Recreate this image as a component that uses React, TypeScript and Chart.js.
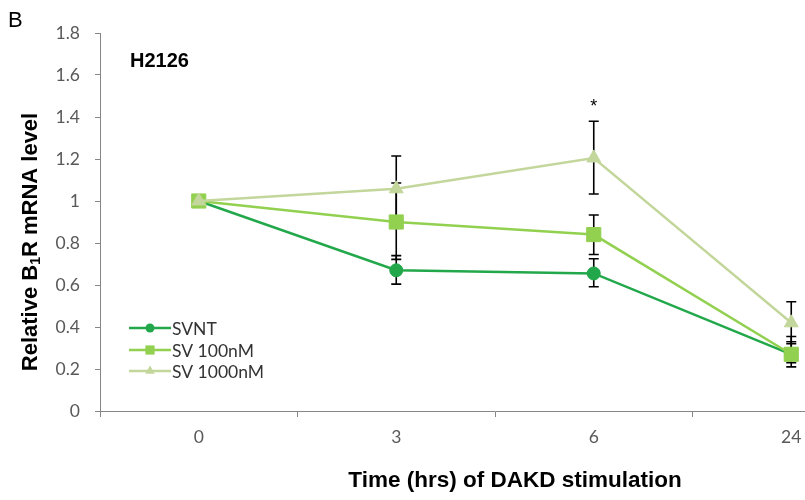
import React, { useEffect, useRef } from "react";
import { Chart, registerables } from "chart.js";

Chart.register(...registerables);

const categories = ["0", "3", "6", "24"];
const seriesNames = ["SVNT", "SV 100nM", "SV 1000nM"];

const svntValues = [1.0, 0.67, 0.655, 0.27];
const svntErrUp = [0, 0.07, 0.07, 0.06];
const svntErrDown = [0, 0.066, 0.063, 0.06];

const sv100Values = [1.0, 0.9, 0.84, 0.27];
const sv100ErrUp = [0, 0.186, 0.093, 0.085];
const sv100ErrDown = [0, 0.178, 0.095, 0.04];

const sv1000Values = [1.0, 1.058, 1.205, 0.42];
const sv1000ErrUp = [0, 0.156, 0.175, 0.1];
const sv1000ErrDown = [0, 0.16, 0.172, 0.1];

const yTickMin = 0;
const yTickMax = 1.8;
const yTickStep = 0.2;

const starIndices = [2]; // significance marks on SV 1000nM

const panelLetter = "B";
const panelTitle = "H2126";
const xTitle = "Time (hrs) of DAKD stimulation";

const colors = ["#22A84B", "#92D050", "#C3D69B"];
const pointStyles = ["circle", "rect", "triangle"];
const pointRadii = [6.5, 10, 8];
const legendRadii = [4.5, 6.5, 5.5];

const errUps = [svntErrUp, sv100ErrUp, sv1000ErrUp];
const errDowns = [svntErrDown, sv100ErrDown, sv1000ErrDown];

const TICK_FONT = "Lato, 'Open Sans', sans-serif";
const BOLD_FONT = "'Liberation Sans Narrow', 'Liberation Sans', Arial, sans-serif";

const errorBarPlugin = {
  id: "errorBars",
  beforeDatasetsDraw(chart: any) {
    const ctx = chart.ctx;
    const xs = chart.scales.x;
    const ys = chart.scales.y;
    ctx.save();
    ctx.strokeStyle = "#000000";
    ctx.lineWidth = 1.6;
    chart.data.datasets.forEach((ds: any, i: number) => {
      ds.data.forEach((v: number, j: number) => {
        const up = errUps[i][j];
        const dn = errDowns[i][j];
        if (!up && !dn) return;
        const x = xs.getPixelForValue(j);
        const yt = ys.getPixelForValue(v + up);
        const yb = ys.getPixelForValue(v - dn);
        ctx.beginPath();
        ctx.moveTo(x, yt);
        ctx.lineTo(x, yb);
        ctx.moveTo(x - 5, yt);
        ctx.lineTo(x + 5, yt);
        ctx.moveTo(x - 5, yb);
        ctx.lineTo(x + 5, yb);
        ctx.stroke();
      });
    });
    ctx.restore();
  },
};

function drawMarker(ctx: CanvasRenderingContext2D, style: string, x: number, y: number, r: number) {
  ctx.beginPath();
  if (style === "circle") {
    ctx.arc(x, y, r, 0, Math.PI * 2);
  } else if (style === "rect") {
    const s = Math.SQRT1_2 * r;
    ctx.rect(x - s, y - s, 2 * s, 2 * s);
  } else {
    const a = (2 * Math.PI) / 3;
    ctx.moveTo(x, y - r);
    ctx.lineTo(x + Math.sin(a) * r, y - Math.cos(a) * r);
    ctx.lineTo(x + Math.sin(2 * a) * r, y - Math.cos(2 * a) * r);
    ctx.closePath();
  }
  ctx.fill();
}

const decorPlugin = {
  id: "decor",
  afterDraw(chart: any) {
    const ctx = chart.ctx;
    const xs = chart.scales.x;
    const ys = chart.scales.y;
    ctx.save();

    // panel letter
    ctx.fillStyle = "#000000";
    ctx.font = "22px 'Liberation Sans', Arial, sans-serif";
    ctx.textAlign = "left";
    ctx.textBaseline = "alphabetic";
    ctx.fillText(panelLetter, 8, 27);

    // panel title
    ctx.font = "bold 20px 'Liberation Sans', Arial, sans-serif";
    ctx.fillText(panelTitle, 130, 67);

    // x title
    ctx.font = "bold 22.5px " + BOLD_FONT;
    ctx.textAlign = "center";
    ctx.textBaseline = "middle";
    ctx.fillText(xTitle, 515, 481);

    // y title with subscript
    ctx.save();
    ctx.translate(31, 242);
    ctx.rotate(-Math.PI / 2);
    const big = "bold 22px " + BOLD_FONT;
    const small = "bold 14px " + BOLD_FONT;
    const parts = [
      { t: "Relative B", f: big, dy: 0 },
      { t: "1", f: small, dy: 5 },
      { t: "R mRNA level", f: big, dy: 0 },
    ];
    let total = 0;
    parts.forEach((p) => {
      ctx.font = p.f;
      total += ctx.measureText(p.t).width;
    });
    let cx = -total / 2;
    ctx.textAlign = "left";
    ctx.textBaseline = "middle";
    parts.forEach((p) => {
      ctx.font = p.f;
      ctx.fillText(p.t, cx, p.dy);
      cx += ctx.measureText(p.t).width;
    });
    ctx.restore();

    // significance stars
    ctx.font = "18px 'Liberation Sans', Arial, sans-serif";
    ctx.textAlign = "center";
    ctx.textBaseline = "middle";
    starIndices.forEach((j) => {
      const x = xs.getPixelForValue(j);
      const y = ys.getPixelForValue(sv1000Values[j] + sv1000ErrUp[j]);
      ctx.fillText("*", x, y - 14);
    });

    // legend
    const lx0 = 129;
    const lx1 = 171;
    const rowsY = [328, 350, 371];
    chart.data.datasets.forEach((ds: any, i: number) => {
      const y = rowsY[i];
      ctx.strokeStyle = colors[i];
      ctx.lineWidth = 2.5;
      ctx.beginPath();
      ctx.moveTo(lx0, y);
      ctx.lineTo(lx1, y);
      ctx.stroke();
      ctx.fillStyle = colors[i];
      drawMarker(ctx, pointStyles[i], 150, y, legendRadii[i]);
      ctx.fillStyle = "#333333";
      ctx.font = "17.5px " + TICK_FONT;
      ctx.textAlign = "left";
      ctx.textBaseline = "middle";
      ctx.fillText(seriesNames[i], 172, y + 1);
    });

    ctx.restore();
  },
};

export default function App() {
  const ref = useRef<HTMLCanvasElement | null>(null);

  useEffect(() => {
    if (!ref.current) return;
    const valueSets = [svntValues, sv100Values, sv1000Values];
    const chart = new Chart(ref.current, {
      type: "line",
      data: {
        labels: categories,
        datasets: valueSets.map((vals, i) => ({
          label: seriesNames[i],
          data: vals,
          borderColor: colors[i],
          backgroundColor: colors[i],
          pointBackgroundColor: colors[i],
          pointBorderColor: colors[i],
          pointStyle: pointStyles[i] as any,
          pointRadius: pointRadii[i],
          pointBorderWidth: 1,
          borderWidth: 2.5,
          tension: 0,
          fill: false,
          order: 2 - i,
          clip: false as any,
        })),
      },
      options: {
        animation: false,
        responsive: false,
        maintainAspectRatio: false,
        layout: { padding: { top: 33, right: 0, left: 0, bottom: 0 } },
        plugins: {
          legend: { display: false },
          tooltip: { enabled: false },
          title: { display: false },
        },
        scales: {
          x: {
            type: "category",
            offset: true,
            grid: {
              offset: true,
              drawOnChartArea: false,
              drawTicks: true,
              tickLength: 6,
              color: "#868686",
            },
            border: { color: "#868686", width: 1 },
            ticks: {
              color: "#595959",
              font: { family: TICK_FONT, size: 17.5 },
              padding: 10,
              maxRotation: 0,
            },
            afterFit: (s: any) => {
              s.height = 89;
            },
          },
          y: {
            min: yTickMin,
            max: yTickMax,
            grid: {
              drawOnChartArea: false,
              drawTicks: true,
              tickLength: 5,
              color: "#868686",
            },
            border: { color: "#868686", width: 1 },
            ticks: {
              stepSize: yTickStep,
              color: "#595959",
              font: { family: TICK_FONT, size: 17.5 },
              padding: 15,
              callback: (v: any) => String(Number(Number(v).toFixed(1))),
            },
            afterFit: (s: any) => {
              s.width = 100;
            },
          },
        },
      },
      plugins: [errorBarPlugin, decorPlugin],
    });
    return () => chart.destroy();
  }, []);

  return (
    <div
      style={{
        position: "absolute",
        left: 0,
        top: 0,
        width: 805,
        height: 500,
        overflow: "hidden",
        background: "#ffffff",
      }}
    >
      <canvas ref={ref} width={901} height={500} style={{ display: "block", width: 901, height: 500 }} />
    </div>
  );
}
